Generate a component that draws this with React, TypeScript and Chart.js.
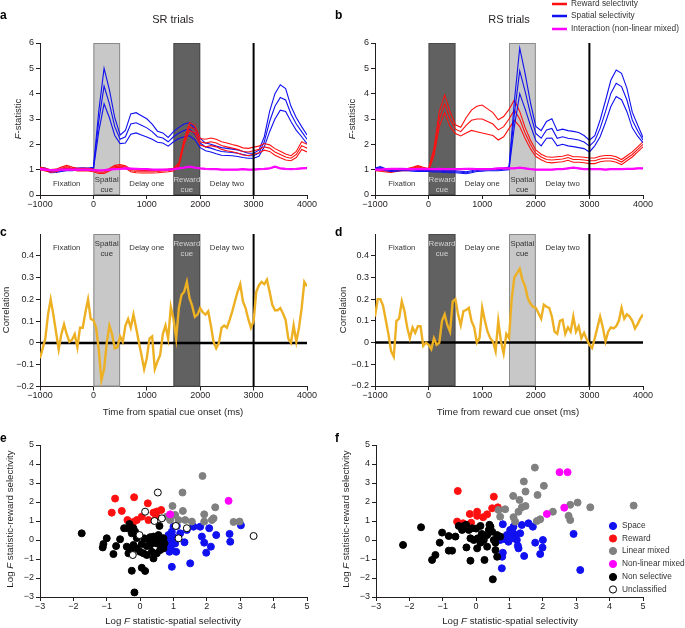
import React, { useEffect, useRef } from 'react';
import { Chart, registerables } from 'chart.js';
Chart.register(...registerables);

const FONT = '"Liberation Sans", Arial, Helvetica, sans-serif';
const INK = '#231f20';

// ---------- F-statistic time courses (100 ms steps) ----------
const fTime = [-1000,-900,-800,-700,-600,-500,-400,-300,-200,-100,0,100,200,300,400,500,600,700,800,900,1000,1100,1200,1300,1400,1500,1600,1700,1800,1900,2000,2100,2200,2300,2400,2500,2600,2700,2800,2900,3000,3100,3200,3300,3400,3500,3600,3700,3800,3900,4000];

const srSpatialMean = [1.05,1.02,0.92,0.93,0.97,1.0,1.0,1.02,1.03,1.02,1.05, 2.9,4.3,3.6,2.7,2.2, 2.3,2.8,2.85,2.75,2.65, 2.5,2.3,2.25,2.1,2.3, 2.45,2.55,2.6,2.4,2.05, 1.9,1.85,1.78,1.72,1.7, 1.68,1.65,1.6,1.55,1.55, 1.65,2.1,2.9,3.5,3.85, 3.75,3.2,2.8,2.5,2.2];
const srSpatialSe = [0.04,0.04,0.04,0.04,0.04,0.04,0.04,0.04,0.04,0.04,0.04, 0.4,0.7,0.55,0.35,0.17, 0.25,0.4,0.4,0.38,0.36, 0.3,0.22,0.2,0.17,0.2, 0.22,0.25,0.26,0.22,0.18, 0.15,0.15,0.15,0.15,0.14, 0.13,0.13,0.12,0.1,0.1, 0.12,0.2,0.4,0.5,0.5, 0.45,0.3,0.25,0.2,0.17];
const srRewardMean = [1.05,1.0,0.95,0.97,1.05,1.12,1.05,1.0,1.0,1.0,0.97, 0.9,0.9,1.0,1.12,1.15, 1.1,0.97,0.93,0.92,0.92, 0.92,0.93,0.95,0.97,1.0, 1.2,2.1,2.7,2.6,2.1, 2.05,2.1,2.05,1.95,1.9, 1.85,1.8,1.72,1.7,1.75, 1.8,1.9,1.85,1.7,1.6, 1.5,1.45,1.6,1.95,1.85];
const srRewardSe = [0.05,0.05,0.05,0.05,0.05,0.05,0.05,0.05,0.05,0.05,0.05, 0.05,0.05,0.05,0.05,0.05, 0.05,0.05,0.05,0.05,0.05, 0.05,0.05,0.05,0.05,0.05, 0.08,0.1,0.15,0.15,0.13, 0.15,0.15,0.15,0.15,0.15, 0.14,0.14,0.14,0.14,0.14, 0.13,0.13,0.13,0.13,0.13, 0.12,0.1,0.12,0.15,0.15];
const srInterMean = [1.02,1.0,0.98,0.98,1.0,1.0,1.0,1.0,1.0,1.0,0.98, 0.97,0.98,1.0,1.02,1.03, 1.05,1.04,1.03,1.02,1.02, 1.0,1.0,1.0,1.0,1.02, 1.05,1.08,1.12,1.08,1.05, 1.03,1.02,1.02,1.0,1.0, 1.0,1.0,1.02,1.0,1.0, 1.02,1.03,1.05,1.12,1.05, 1.03,1.02,1.03,1.05,1.06];
const srInterSe = [0.025,0.025,0.025,0.025,0.025,0.025,0.025,0.025,0.025,0.025,0.025, 0.025,0.025,0.025,0.025,0.025, 0.025,0.025,0.025,0.025,0.025, 0.025,0.025,0.025,0.025,0.025, 0.025,0.025,0.025,0.025,0.025, 0.025,0.025,0.025,0.025,0.025, 0.025,0.025,0.025,0.025,0.025, 0.025,0.025,0.025,0.025,0.025, 0.025,0.025,0.025,0.025,0.025];

const rsRewardMean = [1.0,0.98,0.95,0.93,0.97,1.0,1.0,1.05,1.12,1.05,1.0, 1.7,3.0,3.6,3.0,2.6, 2.5,2.75,2.95,3.0,3.0, 2.9,2.8,2.57,2.7,3.0, 3.35,3.0,2.45,2.0,1.65, 1.5,1.4,1.38,1.4,1.42, 1.48,1.4,1.4,1.38,1.35, 1.35,1.42,1.45,1.45,1.4, 1.3,1.45,1.6,1.8,2.0];
const rsRewardSe = [0.04,0.04,0.04,0.04,0.04,0.04,0.04,0.04,0.04,0.04,0.04, 0.15,0.3,0.35,0.3,0.17, 0.17,0.3,0.4,0.5,0.55, 0.5,0.45,0.4,0.4,0.38, 0.4,0.3,0.22,0.17,0.13, 0.11,0.11,0.11,0.11,0.11, 0.11,0.11,0.11,0.11,0.11, 0.11,0.11,0.11,0.11,0.11, 0.1,0.1,0.1,0.1,0.1];
const rsSpatialMean = [1.02,1.08,1.0,0.97,0.98,1.0,1.0,0.98,0.97,0.98,0.97, 0.95,0.95,0.93,0.92,0.92, 0.9,0.88,0.92,0.97,0.98, 1.0,1.0,1.0,1.02,1.05, 3.2,4.9,4.1,3.2,2.43, 2.24,2.57,2.63,2.24,2.3, 2.24,2.21,2.17,2.09,1.93, 2.14,2.63,3.29,4.01,4.41, 4.28,3.75,2.96,2.54,2.17];
const rsSpatialSe = [0.04,0.04,0.04,0.04,0.04,0.04,0.04,0.04,0.04,0.04,0.04, 0.04,0.04,0.04,0.04,0.04, 0.04,0.04,0.04,0.04,0.04, 0.04,0.04,0.04,0.04,0.05, 0.5,0.9,0.7,0.45,0.28, 0.3,0.33,0.38,0.3,0.3, 0.3,0.3,0.3,0.26,0.23, 0.2,0.33,0.43,0.52,0.52, 0.52,0.46,0.31,0.22,0.1];
const rsInterMean = [1.0,1.0,1.02,1.03,1.03,1.03,1.02,1.02,1.02,1.03,1.02, 1.02,1.03,1.02,1.02,1.02, 1.02,1.03,1.03,1.02,1.02, 1.02,1.03,1.05,1.05,1.05, 1.05,1.08,1.05,1.02,1.0, 1.0,1.0,1.0,1.02,1.02, 1.05,1.08,1.05,1.02,1.02, 1.02,1.02,1.0,1.02,1.02, 1.02,1.03,1.03,1.05,1.05];
const rsInterSe = srInterSe;

// ---------- Correlation time courses (50 ms steps) ----------
const cTime = [-1000,-950,-900,-850,-800,-750,-700,-650,-600,-550,-500,-450,-400,-350,-300,-250,-200,-150,-100,-50,0,50,100,150,200,250,300,350,400,450,500,550,600,650,700,750,800,850,900,950,1000,1050,1100,1150,1200,1250,1300,1350,1400,1450,1500,1550,1600,1650,1700,1750,1800,1850,1900,1950,2000,2050,2100,2150,2200,2250,2300,2350,2400,2450,2500,2550,2600,2650,2700,2750,2800,2850,2900,2950,3000,3050,3100,3150,3200,3250,3300,3350,3400,3450,3500,3550,3600,3650,3700,3750,3800,3850,3900,3950,4000];
const corrSR = [
  -0.07,-0.025,0.02,0.13,0.2,0.13,0.05,-0.03,0.04,0.085,
  0.04,0.005,0.015,0.04,-0.02,0.07,0.07,0.14,0.2,0.11,
  0.105,0.07,-0.03,-0.17,-0.12,0.0,0.08,0.04,-0.025,-0.02,
  0.03,0.005,0.08,0.11,0.07,0.13,0.07,0.005,-0.055,-0.12,
  -0.07,0.02,0.03,-0.12,-0.085,-0.055,0.04,0.08,0.02,0.165,
  0.11,0.02,0.16,0.22,0.235,0.28,0.205,0.17,0.12,0.13,
  0.16,0.14,0.13,0.145,0.08,0.005,-0.025,0.0,0.07,0.08,
  0.07,0.105,0.145,0.19,0.235,0.27,0.19,0.16,0.11,0.07,
  0.1,0.235,0.265,0.28,0.27,0.29,0.235,0.175,0.15,0.15,
  0.16,0.135,0.105,0.02,0.0,0.08,0.005,0.07,0.16,0.28,
  0.26];
const corrRS = [
  0.12,0.2,0.2,0.17,0.105,0.04,-0.04,-0.065,0.1,0.11,
  0.19,0.145,0.07,0.02,0.07,0.045,0.075,0.075,-0.015,0.0,
  -0.01,-0.03,0.02,-0.01,0.0,0.1,0.13,0.08,0.05,0.19,
  0.2,0.13,0.08,0.145,0.15,0.16,0.1,0.07,0.0,0.02,
  0.16,0.1,0.05,0.02,0.005,-0.04,0.1,0.005,-0.05,0.04,
  0.02,0.2,0.3,0.32,0.34,0.29,0.26,0.205,0.18,0.165,
  0.16,0.135,0.11,0.175,0.165,0.16,0.12,0.05,0.04,0.1,
  0.105,0.04,0.07,0.05,0.12,0.05,0.075,0.02,0.045,0.015,
  -0.01,-0.025,0.02,0.07,0.12,0.07,0.005,0.05,0.07,0.065,
  0.075,0.1,0.16,0.11,0.13,0.12,0.1,0.065,0.085,0.11,
  0.13];

// ---------- Scatter (log F spatial, log F reward) ----------
const eSpace = [[1.0,0.7],[0.95,0.44],[0.85,0.26],[0.9,0.0],[0.85,-0.26],[0.88,-0.62],[0.95,-1.41],[1.08,-0.62],[1.33,-0.12],[1.5,-1.23],[1.4,0.53],[1.6,0.7],[1.8,0.7],[1.85,0.18],[1.92,-0.14],[1.98,-0.67],[2.12,-0.35],[2.07,0.62],[2.28,0.26],[2.68,0.32],[2.7,-0.09],[3.02,0.77],[0.98,0.18],[1.05,-0.18],[1.2,0.35],[0.8,0.09],[0.92,-0.44],[1.1,0.74],[0.9,-0.3],[1.0,-0.1]];
const eReward = [[-0.75,2.18],[-0.18,2.25],[0.23,1.93],[-0.85,1.44],[-0.55,1.53],[-0.38,1.05],[-0.1,1.05],[0.05,1.23],[0.25,1.05],[0.4,1.44],[0.5,1.5],[0.63,1.58],[0.48,1.23],[-0.2,0.95]];
const eLinear = [[1.87,3.37],[1.27,2.5],[0.97,1.79],[1.28,1.53],[1.92,1.35],[2.25,1.72],[2.2,1.14],[1.35,1.05],[1.55,0.97],[1.92,0.97],[2.8,0.95],[2.98,0.97],[0.9,1.05],[0.8,1.23],[1.05,1.32],[1.15,1.05],[2.15,1.05]];
const eNonLinear = [[0.9,1.35],[2.65,2.06]];
const eNonSel = [[-1.75,0.35],[-1.0,0.09],[-1.1,-0.21],[-1.12,-0.39],[-0.72,-0.32],[-0.8,-0.74],[-0.6,0.04],[-0.48,0.62],[-0.32,0.84],[-0.28,0.56],[-0.2,0.62],[-0.25,0.35],[-0.15,0.44],[-0.4,-0.35],[-0.35,-0.7],[-0.28,-0.53],[-0.2,-0.26],[-0.1,-0.44],[0.0,-0.62],[0.1,-0.7],[0.2,-0.79],[0.35,-0.62],[0.4,-0.97],[0.5,-0.7],[0.6,-0.53],[0.7,-0.44],[0.73,-0.18],[0.65,0.09],[0.55,0.26],[0.4,0.18],[0.25,0.04],[0.12,0.09],[0.05,-0.21],[0.2,-0.32],[0.35,-0.18],[0.5,-0.18],[0.6,-0.21],[0.7,0.09],[0.58,0.74],[-0.25,-1.62],[0.05,-1.46],[0.15,-1.63],[-0.17,-2.76],[0.45,-0.04],[0.3,-0.26],[-0.35,0.6],[-0.1,0.1],[0.3,0.15]];
const eUnclass = [[0.53,2.5],[0.15,1.49],[0.43,1.0],[0.65,1.14],[1.07,0.74],[1.4,0.62],[1.15,0.09],[-0.02,0.26],[-0.22,-0.79],[3.4,0.21]];

const fSpace = [[0.8,0.83],[0.72,0.0],[0.8,-0.67],[0.78,-0.88],[0.77,-1.49],[0.92,0.26],[1.02,0.53],[1.12,0.7],[1.17,0.26],[1.07,0.09],[1.22,0.0],[1.32,0.35],[1.27,-0.44],[1.37,0.79],[1.57,0.88],[1.7,0.7],[1.44,-0.84],[1.77,-0.14],[2.0,0.0],[1.99,-0.4],[1.92,-0.74],[2.92,0.32],[3.12,-1.58],[0.87,0.04],[0.97,-0.09],[1.25,-0.3],[1.1,0.4]];
const fReward = [[-0.55,2.58],[0.53,2.28],[-0.57,0.97],[-0.19,1.37],[0.03,1.49],[0.03,1.27],[0.33,1.35],[0.48,1.67],[0.65,1.72],[0.21,1.2],[-0.15,0.91],[-0.39,0.88]];
const fLinear = [[1.76,3.81],[1.43,3.08],[2.03,2.85],[1.11,2.32],[1.48,2.55],[1.3,2.11],[1.37,1.72],[1.48,1.79],[0.87,1.62],[0.67,1.58],[0.72,1.23],[1.17,0.97],[1.84,2.37],[1.92,1.09],[1.82,1.0],[2.3,1.49],[2.82,1.85],[3.04,1.97],[3.42,1.72],[2.77,1.27],[2.82,1.05],[4.72,1.81],[1.27,1.49],[1.12,1.2]];
const fNonLinear = [[2.5,3.57],[2.74,3.57],[2.64,1.7],[2.12,1.37]];
const fNonSel = [[-2.19,-0.26],[-1.65,0.67],[-1.22,-0.79],[-1.32,-1.05],[-1.09,-0.14],[-1.02,0.39],[-0.82,0.21],[-0.82,-0.56],[-0.72,-0.56],[-0.62,0.18],[-0.42,0.53],[-0.37,0.74],[-0.29,-0.39],[-0.22,0.53],[-0.17,0.09],[-0.17,-1.09],[-0.07,0.0],[0.03,-0.44],[0.05,0.09],[0.13,0.74],[0.17,0.32],[0.23,0.0],[0.25,-1.05],[0.33,0.26],[0.33,-0.35],[0.43,0.7],[0.48,0.44],[0.53,0.0],[0.58,-0.14],[0.58,-0.53],[0.63,-0.88],[0.5,-2.07],[0.38,0.53],[0.13,-0.14],[0.63,0.26],[0.72,0.18],[-0.12,0.62],[-0.52,0.74],[-0.3,0.8],[0.0,0.6],[0.4,0.8]];
const fUnclass: number[][] = [];

const categoryLabels = ['Space', 'Reward', 'Linear mixed', 'Non-linear mixed', 'Non selective', 'Unclassified'];
const lineLegendLabels = ['Reward selectivity', 'Spatial selectivity', 'Interaction (non-linear mixed)'];

// ---------- colours ----------
const RED = '#ff1010';
const BLUE = '#1010f0';
const MAGENTA = '#ff00ff';
const ORANGE = '#eeb023';
const GRAY = '#808080';
const LIGHT_BOX = '#c8c8c8';
const DARK_BOX = '#616161';

// ---------- helpers ----------
type Part = { t: string; i?: boolean; b?: boolean };
type TextItem = { x: number; y: number; parts: Part[]; size: number; color?: string; align?: 'left' | 'center' | 'right'; rot?: boolean };
type Decor = {
  boxes?: { x0: number; x1: number; fill: string; stroke: string }[];
  vlines?: { x: number; w: number }[];
  vFront?: boolean;
  hlines?: { y: number; w: number }[];
  regions?: { x: number; lines: string[]; color: string }[];
  regionAt?: 'top' | 'bottom';
  texts?: TextItem[];
  lineLegend?: { x: number; y: number; color: string; label: string }[];
  dotLegend?: { x: number; y: number; fill: string; stroke: string; label: string }[];
};

function drawParts(ctx: CanvasRenderingContext2D, item: TextItem) {
  ctx.save();
  ctx.translate(item.x, item.y);
  if (item.rot) ctx.rotate(-Math.PI / 2);
  ctx.textBaseline = 'middle';
  ctx.textAlign = 'left';
  ctx.fillStyle = item.color || INK;
  const fontFor = (p: Part) => `${p.i ? 'italic ' : ''}${p.b ? 'bold ' : ''}${item.size}px ${FONT}`;
  let total = 0;
  const widths = item.parts.map((p) => {
    ctx.font = fontFor(p);
    const w = ctx.measureText(p.t).width;
    total += w;
    return w;
  });
  let x = item.align === 'left' ? 0 : item.align === 'right' ? -total : -total / 2;
  item.parts.forEach((p, k) => {
    ctx.font = fontFor(p);
    ctx.fillText(p.t, x, 0);
    x += widths[k];
  });
  ctx.restore();
}

function makeDecor(d: Decor) {
  const drawV = (chart: any) => {
    const { ctx, chartArea: a, scales } = chart;
    (d.vlines || []).forEach((v) => {
      const px = scales.x.getPixelForValue(v.x);
      ctx.save();
      ctx.strokeStyle = '#000';
      ctx.lineWidth = v.w;
      ctx.beginPath();
      ctx.moveTo(px, a.top);
      ctx.lineTo(px, a.bottom);
      ctx.stroke();
      ctx.restore();
    });
  };
  return {
    id: 'decor',
    beforeDatasetsDraw(chart: any) {
      const { ctx, chartArea: a, scales } = chart;
      (d.boxes || []).forEach((b) => {
        const x0 = scales.x.getPixelForValue(b.x0);
        const x1 = scales.x.getPixelForValue(b.x1);
        ctx.save();
        ctx.fillStyle = b.fill;
        ctx.fillRect(x0, a.top, x1 - x0, a.bottom - a.top);
        ctx.strokeStyle = b.stroke;
        ctx.lineWidth = 1;
        ctx.strokeRect(x0 + 0.5, a.top + 0.5, x1 - x0 - 1, a.bottom - a.top - 1);
        ctx.restore();
      });
      (d.regions || []).forEach((r) => {
        const px = scales.x.getPixelForValue(r.x);
        const ys = d.regionAt === 'top'
          ? (r.lines.length === 1 ? [a.top + 14] : [a.top + 10, a.top + 19.5])
          : (r.lines.length === 1 ? [a.bottom - 11] : [a.bottom - 15, a.bottom - 5]);
        r.lines.forEach((ln, k) => drawParts(ctx, { x: px, y: ys[k], parts: [{ t: ln }], size: 7.8, color: r.color }));
      });
      (d.hlines || []).forEach((h) => {
        const py = scales.y.getPixelForValue(h.y);
        ctx.save();
        ctx.strokeStyle = '#000';
        ctx.lineWidth = h.w;
        ctx.beginPath();
        ctx.moveTo(a.left, py);
        ctx.lineTo(a.right, py);
        ctx.stroke();
        ctx.restore();
      });
      if (!d.vFront) drawV(chart);
    },
    afterDatasetsDraw(chart: any) {
      if (d.vFront) drawV(chart);
    },
    afterDraw(chart: any) {
      const ctx = chart.ctx;
      (d.texts || []).forEach((t) => drawParts(ctx, t));
      (d.lineLegend || []).forEach((l) => {
        ctx.save();
        ctx.strokeStyle = l.color;
        ctx.lineWidth = 2.5;
        ctx.beginPath();
        ctx.moveTo(l.x, l.y);
        ctx.lineTo(l.x + 15, l.y);
        ctx.stroke();
        ctx.restore();
        drawParts(ctx, { x: l.x + 19, y: l.y, parts: [{ t: l.label }], size: 8.3, align: 'left', color: '#333' });
      });
      (d.dotLegend || []).forEach((l) => {
        ctx.save();
        ctx.beginPath();
        ctx.arc(l.x, l.y, 3.6, 0, Math.PI * 2);
        ctx.fillStyle = l.fill;
        ctx.fill();
        ctx.strokeStyle = l.stroke;
        ctx.lineWidth = 1;
        ctx.stroke();
        ctx.restore();
        drawParts(ctx, { x: l.x + 9, y: l.y, parts: [{ t: l.label }], size: 8.3, align: 'left', color: '#333' });
      });
    },
  };
}

const fmt = (v: number) => {
  const r = Math.round(v * 10) / 10;
  return r < 0 ? '\u2212' + String(-r) : String(r);
};

function axis(min: number, max: number, step: number, size: number, isX: boolean, maxLabel?: number) {
  return {
    type: 'linear',
    min,
    max,
    ticks: {
      stepSize: step,
      color: INK,
      font: { size: 9, family: FONT },
      padding: isX ? 0 : 2,
      maxRotation: 0,
      autoSkip: false,
      callback: (v: number) => fmt(v),
    },
    grid: { display: true, drawOnChartArea: false, drawTicks: true, tickLength: 4, color: INK, lineWidth: 1 },
    border: { display: true, color: INK, width: 1 },
    afterFit: (s: any) => {
      if (isX) s.height = size;
      else s.width = size;
    },
    afterBuildTicks: (s: any) => {
      if (maxLabel !== undefined) s.ticks = s.ticks.filter((t: any) => t.value < maxLabel + 1e-6);
    },
  };
}

function bandSets(mean: number[], se: number[], color: string, order: number) {
  const mk = (sign: number) => ({
    data: fTime.map((t, k) => ({ x: t, y: mean[k] + sign * se[k] })),
    borderColor: color,
    borderWidth: 1.1,
    pointRadius: 0,
    tension: 0,
    fill: false,
    order,
  });
  return [mk(1), mk(0), mk(-1)];
}

function scatterSet(pts: number[][], fill: string, stroke: string, order: number) {
  return {
    data: pts.map((p) => ({ x: p[0], y: p[1] })),
    backgroundColor: fill,
    borderColor: stroke,
    borderWidth: 1,
    pointRadius: 3.5,
    order,
  };
}

type Box = { L: number; T: number; R: number; B: number };
function baseOptions(w: number, h: number, box: Box, xs: any, ys: any) {
  return {
    responsive: false,
    animation: false,
    devicePixelRatio: 1,
    events: [],
    layout: { padding: { left: 0, top: box.T, right: w - box.R, bottom: 0 } },
    plugins: { legend: { display: false }, tooltip: { enabled: false }, title: { display: false } },
    scales: { x: xs, y: ys },
  };
}

const SR_BOXES = [
  { x0: 0, x1: 500, fill: LIGHT_BOX, stroke: '#8a8a8a' },
  { x0: 1500, x1: 2000, fill: DARK_BOX, stroke: '#4a4a4a' },
];
const RS_BOXES = [
  { x0: 0, x1: 500, fill: DARK_BOX, stroke: '#4a4a4a' },
  { x0: 1500, x1: 2000, fill: LIGHT_BOX, stroke: '#8a8a8a' },
];
const SR_REGIONS = [
  { x: -500, lines: ['Fixation'], color: '#333' },
  { x: 250, lines: ['Spatial', 'cue'], color: '#333' },
  { x: 1000, lines: ['Delay one'], color: '#333' },
  { x: 1750, lines: ['Reward', 'cue'], color: '#d2d2d2' },
  { x: 2500, lines: ['Delay two'], color: '#333' },
];
const RS_REGIONS = [
  { x: -500, lines: ['Fixation'], color: '#333' },
  { x: 250, lines: ['Reward', 'cue'], color: '#d2d2d2' },
  { x: 1000, lines: ['Delay one'], color: '#333' },
  { x: 1750, lines: ['Spatial', 'cue'], color: '#333' },
  { x: 2500, lines: ['Delay two'], color: '#333' },
];

const letter = (t: string, x: number, y: number): TextItem => ({ x, y, parts: [{ t, b: true }], size: 12, align: 'left', color: '#000' });
const fstatTitle = (x: number, y: number): TextItem => ({ x, y, rot: true, size: 9.5, parts: [{ t: 'F', i: true }, { t: '-statistic' }] });

type PanelSpec = { left: number; top: number; w: number; h: number; make: () => any };

const panels: PanelSpec[] = [
  // a
  {
    left: 0, top: 0, w: 340, h: 218,
    make: () => {
      const box = { L: 40, T: 43, R: 307, B: 195 };
      return {
        type: 'line',
        data: { datasets: [...bandSets(srInterMean, srInterSe, MAGENTA, 1), ...bandSets(srRewardMean, srRewardSe, RED, 2), ...bandSets(srSpatialMean, srSpatialSe, BLUE, 3)] },
        options: baseOptions(340, 218, box, axis(-1000, 4000, 1000, 218 - box.B, true), axis(0, 6, 1, box.L, false)),
        plugins: [makeDecor({
          boxes: SR_BOXES, regions: SR_REGIONS, regionAt: 'bottom', vlines: [{ x: 3000, w: 2 }], vFront: true,
          texts: [letter('a', 0, 16), { x: 173, y: 20, parts: [{ t: 'SR trials' }], size: 11 }, fstatTitle(18, 119)],
        })],
      };
    },
  },
  // b
  {
    left: 330, top: 0, w: 355, h: 218,
    make: () => {
      const box = { L: 45, T: 43, R: 313, B: 195 };
      return {
        type: 'line',
        data: { datasets: [...bandSets(rsInterMean, rsInterSe, MAGENTA, 1), ...bandSets(rsSpatialMean, rsSpatialSe, BLUE, 2), ...bandSets(rsRewardMean, rsRewardSe, RED, 3)] },
        options: baseOptions(355, 218, box, axis(-1000, 4000, 1000, 218 - box.B, true), axis(0, 6, 1, box.L, false)),
        plugins: [makeDecor({
          boxes: RS_BOXES, regions: RS_REGIONS, regionAt: 'bottom', vlines: [{ x: 3000, w: 2 }], vFront: true,
          texts: [letter('b', 5, 16), { x: 179, y: 20, parts: [{ t: 'RS trials' }], size: 11 }, fstatTitle(22, 119)],
          lineLegend: [
            { x: 222, y: 4, color: RED, label: lineLegendLabels[0] },
            { x: 222, y: 16, color: BLUE, label: lineLegendLabels[1] },
            { x: 222, y: 29, color: MAGENTA, label: lineLegendLabels[2] },
          ],
        })],
      };
    },
  },
  // c
  {
    left: 0, top: 218, w: 340, h: 210,
    make: () => {
      const box = { L: 40, T: 16, R: 307, B: 168.5 };
      return {
        type: 'line',
        data: { datasets: [{ data: cTime.map((t, k) => ({ x: t, y: corrSR[k] })), borderColor: ORANGE, borderWidth: 2.4, pointRadius: 0, tension: 0, fill: false }] },
        options: baseOptions(340, 210, box, axis(-1000, 4000, 1000, 210 - box.B, true), axis(-0.2, 0.5, 0.1, box.L, false, 0.4)),
        plugins: [makeDecor({
          boxes: SR_BOXES, regions: SR_REGIONS, regionAt: 'top', vlines: [{ x: 3000, w: 2 }], hlines: [{ y: 0, w: 2.5 }],
          texts: [
            letter('c', 0, 14.5),
            { x: 6, y: 92, rot: true, size: 9.5, parts: [{ t: 'Correlation' }] },
            { x: 173, y: 194, size: 9.7, parts: [{ t: 'Time from spatial cue onset (ms)' }] },
          ],
        })],
      };
    },
  },
  // d
  {
    left: 330, top: 218, w: 355, h: 210,
    make: () => {
      const box = { L: 45, T: 16, R: 313, B: 168 };
      return {
        type: 'line',
        data: { datasets: [{ data: cTime.map((t, k) => ({ x: t, y: corrRS[k] })), borderColor: ORANGE, borderWidth: 2.4, pointRadius: 0, tension: 0, fill: false }] },
        options: baseOptions(355, 210, box, axis(-1000, 4000, 1000, 210 - box.B, true), axis(-0.2, 0.5, 0.1, box.L, false, 0.4)),
        plugins: [makeDecor({
          boxes: RS_BOXES, regions: RS_REGIONS, regionAt: 'top', vlines: [{ x: 3000, w: 2 }], hlines: [{ y: 0, w: 2.5 }],
          texts: [
            letter('d', 5, 14.5),
            { x: 13, y: 92, rot: true, size: 9.5, parts: [{ t: 'Correlation' }] },
            { x: 178, y: 194, size: 9.7, parts: [{ t: 'Time from reward cue onset (ms)' }] },
          ],
        })],
      };
    },
  },
  // e
  {
    left: 0, top: 428, w: 340, h: 200,
    make: () => {
      const box = { L: 40, T: 17, R: 307, B: 169 };
      return {
        type: 'scatter',
        data: { datasets: [
          scatterSet(eUnclass, '#ffffff', '#000000', 1),
          scatterSet(eNonLinear, MAGENTA, MAGENTA, 2),
          scatterSet(eNonSel, '#000000', '#000000', 3),
          scatterSet(eLinear, GRAY, GRAY, 4),
          scatterSet(eReward, RED, RED, 5),
          scatterSet(eSpace, BLUE, BLUE, 6),
        ] },
        options: baseOptions(340, 200, box, axis(-3, 5, 1, 200 - box.B, true), axis(-3, 5, 1, box.L, false)),
        plugins: [makeDecor({
          texts: [
            letter('e', 0, 11),
            { x: 10, y: 91, rot: true, size: 9.7, parts: [{ t: 'Log ' }, { t: 'F', i: true }, { t: ' statistic-reward selectivity' }] },
            { x: 173, y: 193, size: 9.7, parts: [{ t: 'Log ' }, { t: 'F', i: true }, { t: ' statistic-spatial selectivity' }] },
          ],
        })],
      };
    },
  },
  // f
  {
    left: 330, top: 428, w: 355, h: 200,
    make: () => {
      const box = { L: 46, T: 17, R: 313, B: 169 };
      return {
        type: 'scatter',
        data: { datasets: [
          scatterSet(fUnclass, '#ffffff', '#000000', 1),
          scatterSet(fNonLinear, MAGENTA, MAGENTA, 2),
          scatterSet(fNonSel, '#000000', '#000000', 3),
          scatterSet(fLinear, GRAY, GRAY, 4),
          scatterSet(fReward, RED, RED, 5),
          scatterSet(fSpace, BLUE, BLUE, 6),
        ] },
        options: baseOptions(355, 200, box, axis(-3, 5, 1, 200 - box.B, true), axis(-3, 5, 1, box.L, false)),
        plugins: [makeDecor({
          texts: [
            letter('f', 5, 11),
            { x: 16, y: 91, rot: true, size: 9.7, parts: [{ t: 'Log ' }, { t: 'F', i: true }, { t: ' statistic-reward selectivity' }] },
            { x: 180, y: 193, size: 9.7, parts: [{ t: 'Log ' }, { t: 'F', i: true }, { t: ' statistic-spatial selectivity' }] },
          ],
          dotLegend: [
            { x: 283, y: 98, fill: BLUE, stroke: BLUE, label: categoryLabels[0] },
            { x: 283, y: 110.5, fill: RED, stroke: RED, label: categoryLabels[1] },
            { x: 283, y: 123, fill: GRAY, stroke: GRAY, label: categoryLabels[2] },
            { x: 283, y: 136, fill: MAGENTA, stroke: MAGENTA, label: categoryLabels[3] },
            { x: 283, y: 149, fill: '#000', stroke: '#000', label: categoryLabels[4] },
            { x: 283, y: 161.5, fill: '#fff', stroke: '#000', label: categoryLabels[5] },
          ],
        })],
      };
    },
  },
];

function Panel({ spec }: { spec: PanelSpec }) {
  const ref = useRef<HTMLCanvasElement>(null);
  useEffect(() => {
    const chart = new Chart(ref.current as HTMLCanvasElement, spec.make());
    return () => chart.destroy();
  }, [spec]);
  return (
    <canvas
      ref={ref}
      width={spec.w}
      height={spec.h}
      style={{ position: 'absolute', left: spec.left, top: spec.top, width: spec.w, height: spec.h }}
    />
  );
}

export default function App() {
  return (
    <div style={{ position: 'fixed', left: 0, top: 0, width: 685, height: 628, background: '#ffffff', overflow: 'hidden' }}>
      {panels.map((p, k) => (
        <Panel key={k} spec={p} />
      ))}
    </div>
  );
}
